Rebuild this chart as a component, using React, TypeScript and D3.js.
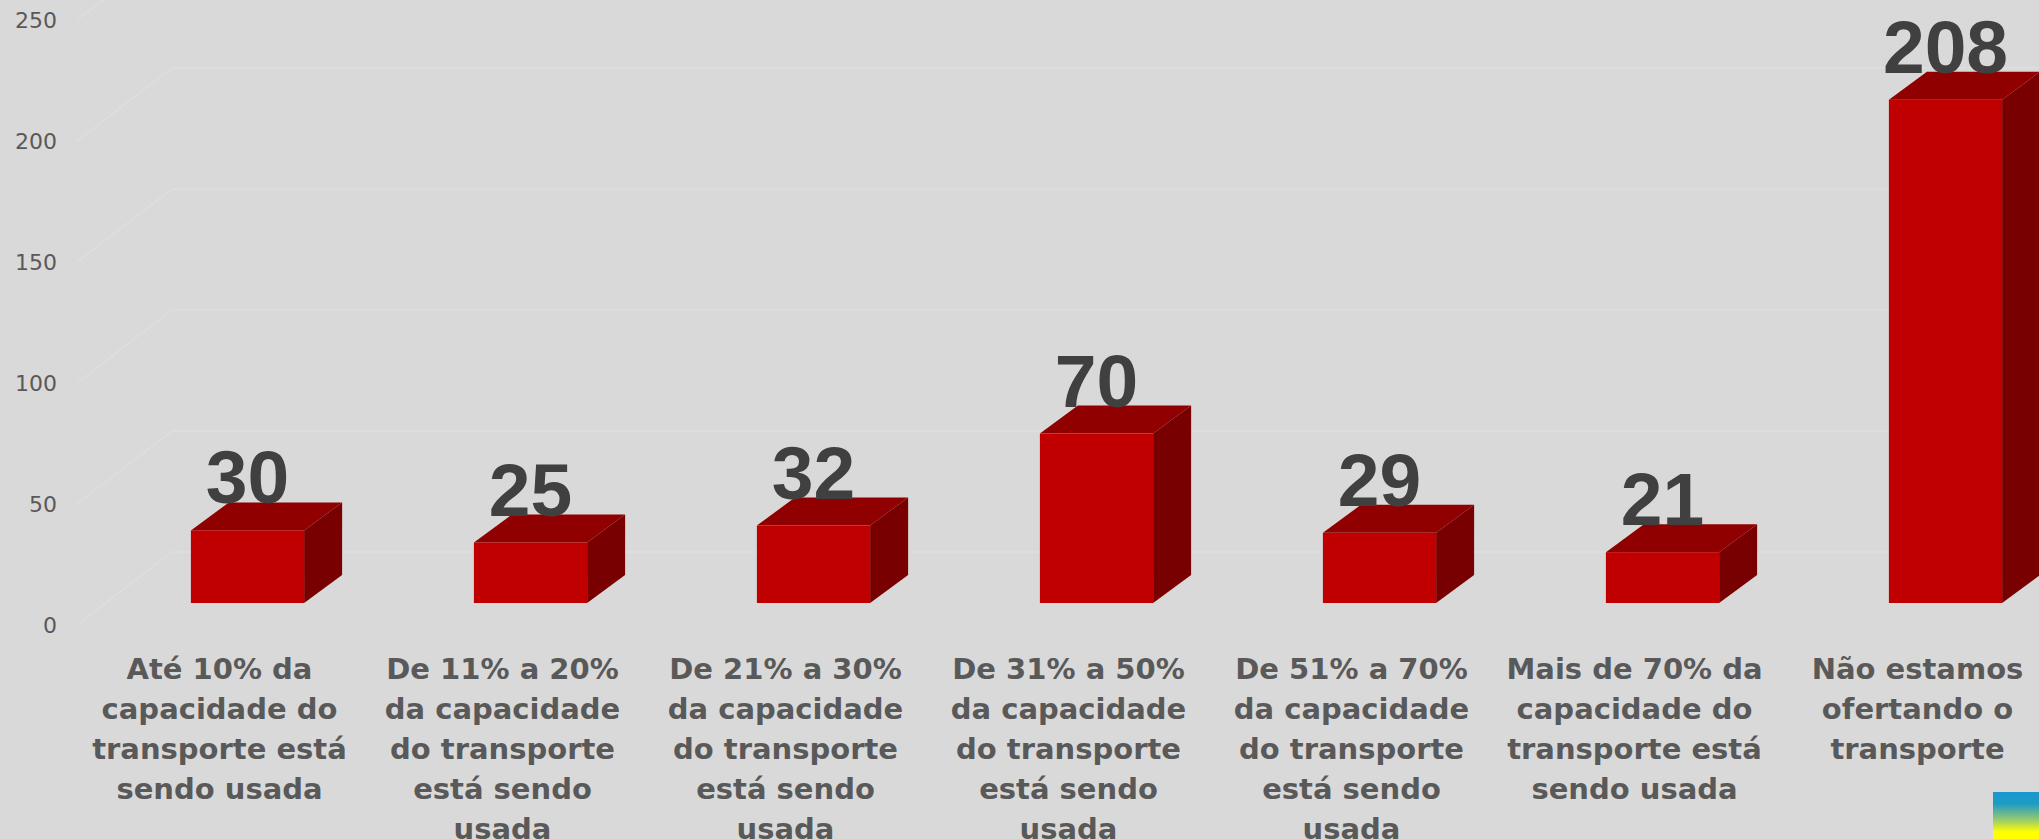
import { useRef, useEffect } from 'react';
import * as d3 from 'd3';

const categories = [
  'Até 10% da\ncapacidade do\ntransporte está\nsendo usada',
  'De 11% a 20%\nda capacidade\ndo transporte\nestá sendo\nusada',
  'De 21% a 30%\nda capacidade\ndo transporte\nestá sendo\nusada',
  'De 31% a 50%\nda capacidade\ndo transporte\nestá sendo\nusada',
  'De 51% a 70%\nda capacidade\ndo transporte\nestá sendo\nusada',
  'Mais de 70% da\ncapacidade do\ntransporte está\nsendo usada',
  'Não estamos\nofertando o\ntransporte',
];
const values = [30, 25, 32, 70, 29, 21, 208];
const yTicks = [0, 50, 100, 150, 200, 250];

const width = 2039;
const height = 839;

// 3d offsets
const depth = { dx: 38, dy: -28 };
const wall = { dx: 95, dy: -73 };

const colors = {
  bg: '#D9D9D9',
  front: '#C00000',
  top: '#900000',
  side: '#780000',
  grid: '#DEDEDE',
  tick: '#595959',
  value: '#404040',
};

const Chart = () => {
  const ref = useRef(null);

  useEffect(() => {
    document.body.style.margin = '0';
    draw();
  }, []);

  const draw = () => {
    const svg = d3.select(ref.current);
    svg.selectAll('*').remove();

    const xScale = d3
      .scaleBand()
      .domain(categories)
      .range([106, 2087])
      .paddingInner(0.6)
      .paddingOuter(0.3);

    // front plane of the bars
    const yScale = d3.scaleLinear().domain([0, 250]).range([603, -2]);
    const floorFront = 22;
    const wallX = 77;

    svg.append('rect').attr('width', width).attr('height', height).attr('fill', colors.bg);

    const defs = svg.append('defs');
    const grad = defs
      .append('linearGradient')
      .attr('id', 'logo')
      .attr('x1', 0)
      .attr('y1', 0)
      .attr('x2', 0)
      .attr('y2', 1);
    grad.append('stop').attr('offset', '0%').attr('stop-color', '#1A98CE');
    grad.append('stop').attr('offset', '25%').attr('stop-color', '#1E9BC4');
    grad.append('stop').attr('offset', '60%').attr('stop-color', '#9CCB6A');
    grad.append('stop').attr('offset', '85%').attr('stop-color', '#FFFF00');
    grad.append('stop').attr('offset', '100%').attr('stop-color', '#FFFF00');

    // gridlines: diagonal on the side wall, then flat on back wall
    const grid = svg.append('g').attr('fill', 'none').attr('stroke', colors.grid).attr('stroke-width', 1.5);
    yTicks.forEach((t) => {
      const y0 = yScale(t) + floorFront;
      grid
        .append('polyline')
        .attr(
          'points',
          `${wallX},${y0} ${wallX + wall.dx},${y0 + wall.dy} ${width},${y0 + wall.dy}`
        );
    });

    // y axis labels
    const axis = svg
      .append('g')
      .attr('transform', `translate(57, ${floorFront})`)
      .call(d3.axisLeft(yScale).tickValues(yTicks).tickSize(0).tickPadding(0));
    axis.select('.domain').remove();
    axis
      .selectAll('text')
      .attr('fill', colors.tick)
      .style('font-family', 'DejaVu Sans, sans-serif')
      .style('font-size', '22px')
      .style('font-weight', 'normal');

    // bars
    const bar = svg
      .selectAll('g.bar')
      .data(values)
      .enter()
      .append('g')
      .attr('class', 'bar');

    const bw = xScale.bandwidth();
    const bx = (d, i) => xScale(categories[i]);

    bar
      .append('polygon')
      .attr('fill', colors.side)
      .attr('points', (d, i) => {
        const x = bx(d, i) + bw;
        const yt = yScale(d);
        const yb = yScale(0);
        return `${x},${yt} ${x + depth.dx},${yt + depth.dy} ${x + depth.dx},${yb + depth.dy} ${x},${yb}`;
      });

    bar
      .append('polygon')
      .attr('fill', colors.top)
      .attr('points', (d, i) => {
        const x = bx(d, i);
        const yt = yScale(d);
        return `${x},${yt} ${x + depth.dx},${yt + depth.dy} ${x + bw + depth.dx},${yt + depth.dy} ${x + bw},${yt}`;
      });

    bar
      .append('rect')
      .attr('fill', colors.front)
      .attr('x', (d, i) => bx(d, i))
      .attr('y', (d) => yScale(d))
      .attr('width', bw)
      .attr('height', (d) => yScale(0) - yScale(d));

    bar
      .append('text')
      .text((d) => d)
      .attr('x', (d, i) => bx(d, i) + bw / 2)
      .attr('y', (d) => yScale(d) + depth.dy + 1)
      .attr('text-anchor', 'middle')
      .attr('fill', colors.value)
      .style('font-family', 'Liberation Sans, Arial, sans-serif')
      .style('font-weight', 'bold')
      .style('font-size', '75px');

    // category labels
    const labels = svg
      .selectAll('text.cat')
      .data(categories)
      .enter()
      .append('text')
      .attr('class', 'cat')
      .attr('text-anchor', 'middle')
      .attr('fill', colors.tick)
      .style('font-family', 'DejaVu Sans, sans-serif')
      .style('font-weight', 'bold')
      .style('font-size', '29px');

    labels
      .selectAll('tspan')
      .data((d) => d.split('\n').map((line) => ({ line, cat: d })))
      .enter()
      .append('tspan')
      .attr('x', (d) => xScale(d.cat) + bw / 2 - 28)
      .attr('y', (d, i) => 679 + i * 40)
      .text((d) => d.line);

    svg
      .append('rect')
      .attr('x', 1993)
      .attr('y', 792)
      .attr('width', 46)
      .attr('height', 47)
      .attr('fill', 'url(#logo)');
  };

  return <svg ref={ref} width={width} height={height} style={{ display: 'block' }}></svg>;
};

export default function App() {
  return <Chart />;
}
